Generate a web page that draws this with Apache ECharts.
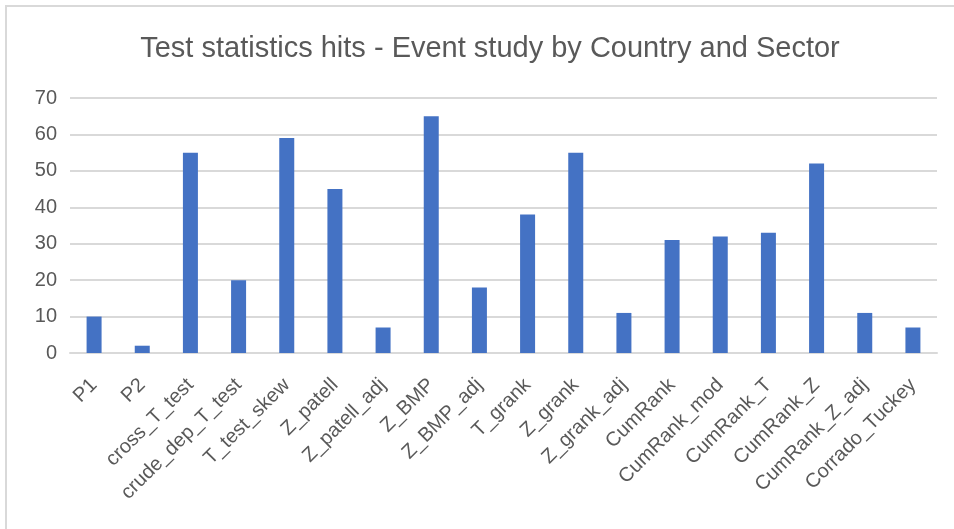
<!DOCTYPE html>
<html>
<head>
<meta charset="utf-8">
<script src="https://cdn.jsdelivr.net/npm/echarts@6/dist/echarts.min.js"></script>
<style>
html,body{margin:0;padding:0;background:#fff;}
#main{width:954px;height:529px;}
</style>
</head>
<body>
<div id="main"></div>
<script>
// categories and hit counts
var tests = ['P1','P2','cross_T_test','crude_dep_T_test','T_test_skew','Z_patell','Z_patell_adj','Z_BMP','Z_BMP_adj','T_grank','Z_grank','Z_grank_adj','CumRank','CumRank_mod','CumRank_T','CumRank_Z','CumRank_Z_adj','Corrado_Tuckey'];
var hits = [10,2,55,20,59,45,7,65,18,38,55,11,31,32,33,52,11,7];
var yTicks = [0,10,20,30,40,50,60,70];

var myChart = echarts.init(document.getElementById('main'));
var font = 'Liberation Sans, Arial, sans-serif';
option = {
    backgroundColor: '#fff',
    animation: false,
    title: {
        text: 'Test statistics hits - Event study by Country and Sector',
        left: 485,
        top: 29,
        textAlign: 'center',
        textStyle: {color: '#595959', fontSize: 29, fontWeight: 'normal', fontFamily: font}
    },
    graphic: [{
        type: 'rect',
        shape: {x: 6, y: 6, width: 960, height: 540},
        style: {fill: 'none', stroke: '#d9d9d9', lineWidth: 2}
    }],
    grid: {left: 70, right: 17, top: 98, bottom: 176, containLabel: false},
    xAxis: {
        type: 'category',
        data: tests,
        axisLine: {lineStyle: {color: '#d9d9d9', width: 2}},
        axisTick: {show: false},
        axisLabel: {rotate: 45, color: '#595959', fontSize: 20, fontFamily: font, interval: 0, margin: 29}
    },
    yAxis: {
        type: 'value',
        min: yTicks[0],
        max: yTicks[yTicks.length - 1],
        interval: 10,
        axisLine: {show: false},
        axisTick: {show: false},
        axisLabel: {color: '#595959', fontSize: 20, fontFamily: font, margin: 13},
        splitLine: {lineStyle: {color: '#d9d9d9', width: 2}}
    },
    series: [{
        type: 'bar',
        data: hits,
        barWidth: 15,
        itemStyle: {color: '#4472c4'}
    }]
};
myChart.setOption(option);
</script>
</body>
</html>
